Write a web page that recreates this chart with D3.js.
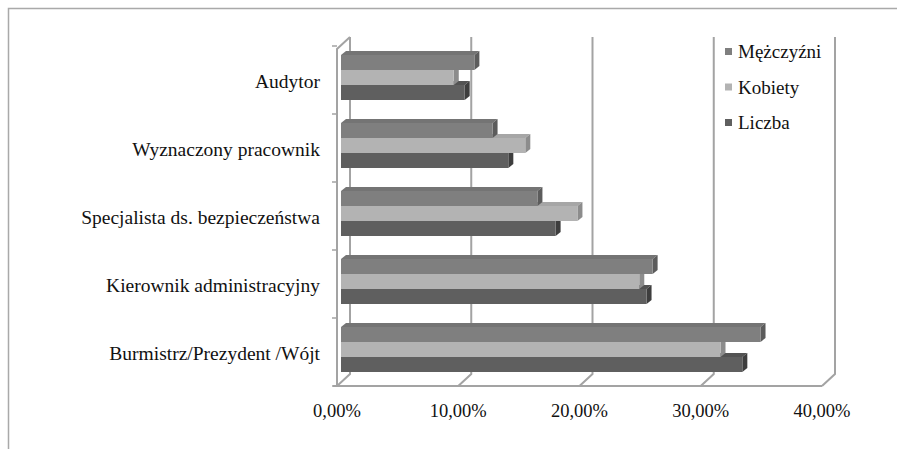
<!DOCTYPE html>
<html><head><meta charset="utf-8">
<script src="https://cdn.jsdelivr.net/npm/d3@7"></script>
<style>html,body{margin:0;padding:0;background:#fff;}svg{display:block;}</style>
</head><body>
<svg id="c" width="897" height="449"></svg>
<script>
const categories = ["Audytor","Wyznaczony pracownik","Specjalista ds. bezpieczeństwa","Kierownik administracyjny","Burmistrz/Prezydent /Wójt"];
const seriesNames = ["Mężczyźni","Kobiety","Liczba"];
const menValues   = [0.110, 0.125, 0.162, 0.257, 0.346];
const womenValues = [0.093, 0.152, 0.195, 0.246, 0.313];
const totalValues = [0.102, 0.138, 0.177, 0.252, 0.331];
const tickValues = [0, 0.1, 0.2, 0.3, 0.4];
const tickLabels = ["0,00%","10,00%","20,00%","30,00%","40,00%"];

const frontColors = ["#7f7f7f","#b3b3b3","#5f5f5f"];
const topColors   = ["#747474","#a6a6a6","#535353"];
const sideColors  = ["#5c5c5c","#8c8c8c","#3e3e3e"];
const valuesBySeries = [menValues, womenValues, totalValues];

const svg = d3.select("#c");
const font = "'Liberation Serif','Times New Roman',serif";
const gridCol = "#a3a3a3";
const textCol = "#111";

// frame
svg.append("path").attr("d","M8.5,449 L8.5,8.5 L897,8.5").attr("fill","none").attr("stroke","#a9a9a9").attr("stroke-width",1.5);

const x = d3.scaleLinear().domain([0,0.4]).range([337,822]);
const y0 = d3.scaleBand().domain(categories).range([46,386]);
const y1 = d3.scaleBand().domain(seriesNames).range([0,45]);
const floorY = 386, topY = 37;
const DX = 13, DY = -12;       // wall depth
const bx = 4, by = 9;          // bar offset inside the depth
const bdx = 5, bdy = -4;       // bar depth

const g = svg.append("g");
// back-wall gridlines + floor diagonals
tickValues.forEach(v => {
  const xf = x(v), xb = x(v)+DX;
  g.append("path").attr("d",`M${xb},${topY} L${xb},${floorY+DY} L${xf},${floorY}`)
    .attr("fill","none").attr("stroke",gridCol).attr("stroke-width",2);
});
// front floor line
g.append("line").attr("x1",x(0)-4).attr("x2",x(0.4)).attr("y1",floorY).attr("y2",floorY)
  .attr("stroke",gridCol).attr("stroke-width",2);
// left axis
g.append("path").attr("d",`M${x(0)+DX},${topY} L${x(0)},${topY-DY} L${x(0)},${floorY}`)
  .attr("fill","none").attr("stroke",gridCol).attr("stroke-width",2);
const bounds = categories.map(c => y0(c)).concat([y0(categories[4]) + y0.bandwidth()]);
bounds.forEach(b => {
  g.append("line").attr("x1",x(0)-5).attr("x2",x(0)).attr("y1",b).attr("y2",b)
    .attr("stroke",gridCol).attr("stroke-width",1.5);
});

// bars: draw bottom series first so upper bars cover lower top faces
const bars = svg.append("g");
categories.forEach((c, ci) => {
  for (let si = seriesNames.length-1; si >= 0; si--) {
    const v = valuesBySeries[si][ci];
    const x0 = x(0)+bx, x1 = x(v)+bx;
    const yt = y0(c) + by + y1(seriesNames[si]);
    const h = y1.bandwidth();
    bars.append("path").attr("d",`M${x0},${yt} L${x0+bdx},${yt+bdy} L${x1+bdx},${yt+bdy} L${x1},${yt} Z`)
      .attr("fill",topColors[si]);
    bars.append("path").attr("d",`M${x1},${yt} L${x1+bdx},${yt+bdy} L${x1+bdx},${yt+h+bdy} L${x1},${yt+h} Z`)
      .attr("fill",sideColors[si]);
    bars.append("rect").attr("x",x0).attr("y",yt).attr("width",x1-x0).attr("height",h)
      .attr("fill",frontColors[si]);
  }
});

// category labels
svg.append("g").selectAll("text").data(categories).join("text")
  .attr("x",320).attr("y",d => y0(d)+y0.bandwidth()/2+8)
  .attr("text-anchor","end").attr("font-family",font).attr("font-size",19.5).attr("fill",textCol)
  .text(d => d);

// x tick labels
svg.append("g").selectAll("text").data(tickValues).join("text")
  .attr("x",d => x(d)).attr("y",417)
  .attr("text-anchor","middle").attr("font-family",font).attr("font-size",18.5).attr("fill",textCol)
  .text((d,i) => tickLabels[i]);

// legend
const lg = svg.append("g");
seriesNames.forEach((s, i) => {
  const cy = 52 + i*35.5;
  lg.append("rect").attr("x",725).attr("y",cy-4).attr("width",7).attr("height",7).attr("fill",frontColors[i]);
  lg.append("text").attr("x",738).attr("y",cy+6).attr("font-family",font).attr("font-size",19).attr("fill",textCol).text(s);
});
</script>
</body></html>
